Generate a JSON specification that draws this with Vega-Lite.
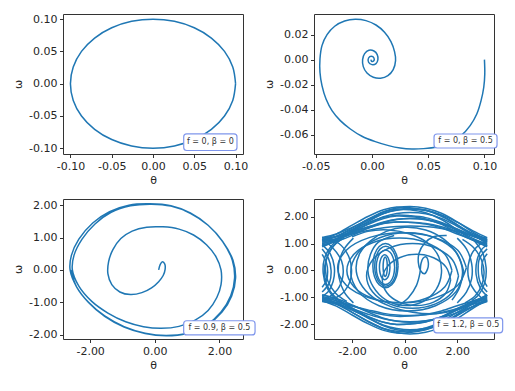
{
"$schema": "https://vega.github.io/schema/vega-lite/v6.json",
"background": "white",
"padding": {"left": 12, "top": 12, "right": 0, "bottom": 0},
"bounds": "flush",
"columns": 2,
"spacing": {"row": 45, "column": 71},
"datasets": {
"p1": [
{"s":1,"x":0.1,"y":0},{"s":1,"x":0.0966,"y":0.0259},{"s":1,"x":0.0866,"y":0.05},{"s":1,"x":0.0707,"y":0.0707},{"s":1,"x":0.05,"y":0.0866},{"s":1,"x":0.0259,"y":0.0966},{"s":1,"x":0,"y":0.1},{"s":1,"x":-0.0259,"y":0.0966},{"s":1,"x":-0.05,"y":0.0866},{"s":1,"x":-0.0707,"y":0.0707},{"s":1,"x":-0.0866,"y":0.05},{"s":1,"x":-0.0966,"y":0.0259},{"s":1,"x":-0.1,"y":0},{"s":1,"x":-0.0966,"y":-0.0259},{"s":1,"x":-0.0866,"y":-0.05},{"s":1,"x":-0.0707,"y":-0.0707},{"s":1,"x":-0.05,"y":-0.0866},{"s":1,"x":-0.0259,"y":-0.0966},{"s":1,"x":0,"y":-0.1},{"s":1,"x":0.0259,"y":-0.0966},{"s":1,"x":0.05,"y":-0.0866},{"s":1,"x":0.0707,"y":-0.0707},{"s":1,"x":0.0866,"y":-0.05},{"s":1,"x":0.0966,"y":-0.0259},{"s":1,"x":0.1,"y":0}
],
"p2": [
{"s":1,"x":0.1,"y":0},{"s":1,"x":0.1003,"y":-0.0115},{"s":1,"x":0.0994,"y":-0.0221},{"s":1,"x":0.097,"y":-0.0328},{"s":1,"x":0.0932,"y":-0.0435},{"s":1,"x":0.0873,"y":-0.0528},{"s":1,"x":0.0793,"y":-0.0608},{"s":1,"x":0.0695,"y":-0.0667},{"s":1,"x":0.0577,"y":-0.0699},{"s":1,"x":0.0459,"y":-0.0712},{"s":1,"x":0.0355,"y":-0.0715},{"s":1,"x":0.0251,"y":-0.0707},{"s":1,"x":0.0148,"y":-0.0688},{"s":1,"x":0.003,"y":-0.0656},{"s":1,"x":-0.0089,"y":-0.0613},{"s":1,"x":-0.0192,"y":-0.0555},{"s":1,"x":-0.0281,"y":-0.0488},{"s":1,"x":-0.0355,"y":-0.0408},{"s":1,"x":-0.0408,"y":-0.0315},{"s":1,"x":-0.0444,"y":-0.0208},{"s":1,"x":-0.0462,"y":-0.0101},{"s":1,"x":-0.0462,"y":0.0005},{"s":1,"x":-0.0444,"y":0.0112},{"s":1,"x":-0.0399,"y":0.02},{"s":1,"x":-0.0331,"y":0.0267},{"s":1,"x":-0.0243,"y":0.0309},{"s":1,"x":-0.0148,"y":0.0323},{"s":1,"x":-0.0053,"y":0.0312},{"s":1,"x":0.0036,"y":0.0277},{"s":1,"x":0.0112,"y":0.0219},{"s":1,"x":0.0169,"y":0.0144},{"s":1,"x":0.0201,"y":0.0064},{"s":1,"x":0.021,"y":-0.0008},{"s":1,"x":0.0189,"y":-0.008},{"s":1,"x":0.0142,"y":-0.0128},{"s":1,"x":0.0077,"y":-0.0149},{"s":1,"x":0.0012,"y":-0.0141},{"s":1,"x":-0.0044,"y":-0.0107},{"s":1,"x":-0.0077,"y":-0.0056},{"s":1,"x":-0.0083,"y":0},{"s":1,"x":-0.0065,"y":0.0048},{"s":1,"x":-0.0027,"y":0.0075},{"s":1,"x":0.0018,"y":0.0069},{"s":1,"x":0.0047,"y":0.004},{"s":1,"x":0.0053,"y":0},{"s":1,"x":0.0036,"y":-0.0032},{"s":1,"x":0,"y":-0.004},{"s":1,"x":-0.003,"y":-0.0021},{"s":1,"x":-0.003,"y":0.0013},{"s":1,"x":-0.0006,"y":0.0027},{"s":1,"x":0.0018,"y":0.0013},{"s":1,"x":0.0015,"y":-0.0011},{"s":1,"x":-0.0003,"y":-0.0013},{"s":1,"x":-0.0009,"y":0}
],
"p3": [
{"s":1,"x":0.12,"y":0},{"s":1,"x":0.17,"y":0.17},{"s":1,"x":0.24,"y":0.25},{"s":1,"x":0.31,"y":0.18},{"s":1,"x":0.32,"y":0.02},{"s":1,"x":0.26,"y":-0.17},{"s":1,"x":0.12,"y":-0.36},{"s":1,"x":-0.1,"y":-0.55},{"s":1,"x":-0.4,"y":-0.7},{"s":1,"x":-0.75,"y":-0.76},{"s":1,"x":-1.08,"y":-0.68},{"s":1,"x":-1.33,"y":-0.45},{"s":1,"x":-1.45,"y":-0.12},{"s":1,"x":-1.43,"y":0.25},{"s":1,"x":-1.3,"y":0.62},{"s":1,"x":-1.05,"y":0.97},{"s":1,"x":-0.7,"y":1.2},{"s":1,"x":-0.25,"y":1.32},{"s":1,"x":0.25,"y":1.33},{"s":1,"x":0.75,"y":1.26},{"s":1,"x":1.2,"y":1.08},{"s":1,"x":1.6,"y":0.78},{"s":1,"x":1.9,"y":0.4},{"s":1,"x":2.05,"y":0},{"s":1,"x":2.05,"y":-0.45},{"s":1,"x":1.92,"y":-0.85},{"s":1,"x":1.65,"y":-1.25},{"s":1,"x":1.25,"y":-1.55},{"s":1,"x":0.75,"y":-1.74},{"s":1,"x":0.2,"y":-1.8},{"s":1,"x":-0.35,"y":-1.75},{"s":1,"x":-0.9,"y":-1.6},{"s":1,"x":-1.45,"y":-1.33},{"s":1,"x":-1.95,"y":-0.97},{"s":1,"x":-2.35,"y":-0.5},{"s":1,"x":-2.55,"y":0},{"s":1,"x":-2.5,"y":0.45},{"s":1,"x":-2.25,"y":0.95},{"s":1,"x":-1.85,"y":1.42},{"s":1,"x":-1.35,"y":1.78},{"s":1,"x":-0.75,"y":1.98},{"s":1,"x":-0.1,"y":2.03},{"s":1,"x":0.5,"y":1.97},{"s":1,"x":1.1,"y":1.75},{"s":1,"x":1.65,"y":1.38},{"s":1,"x":2.1,"y":0.88},{"s":1,"x":2.4,"y":0.3},{"s":1,"x":2.47,"y":-0.25},{"s":1,"x":2.35,"y":-0.8},{"s":1,"x":2.05,"y":-1.3},{"s":1,"x":1.6,"y":-1.7},{"s":1,"x":1.0,"y":-1.95},{"s":1,"x":0.35,"y":-2.02},{"s":1,"x":-0.3,"y":-1.95},{"s":1,"x":-0.95,"y":-1.75},{"s":1,"x":-1.55,"y":-1.42},{"s":1,"x":-2.05,"y":-1.0},{"s":1,"x":-2.42,"y":-0.52},{"s":1,"x":-2.62,"y":0},{"s":1,"x":-2.58,"y":0.45},{"s":1,"x":-2.35,"y":0.95},{"s":1,"x":-1.92,"y":1.45},{"s":1,"x":-1.4,"y":1.8},{"s":1,"x":-0.8,"y":2.0},{"s":1,"x":-0.15,"y":2.04},{"s":1,"x":0.5,"y":1.98},{"s":1,"x":1.1,"y":1.76},{"s":1,"x":1.65,"y":1.38},{"s":1,"x":2.1,"y":0.88},{"s":1,"x":2.42,"y":0.3},{"s":1,"x":2.5,"y":-0.25},{"s":1,"x":2.38,"y":-0.8},{"s":1,"x":2.08,"y":-1.3},{"s":1,"x":1.62,"y":-1.7},{"s":1,"x":1.0,"y":-1.96},{"s":1,"x":0.35,"y":-2.03},{"s":1,"x":-0.3,"y":-1.96},{"s":1,"x":-0.95,"y":-1.76},{"s":1,"x":-1.55,"y":-1.43},{"s":1,"x":-2.05,"y":-1.0},{"s":1,"x":-2.42,"y":-0.52},{"s":1,"x":-2.6,"y":0}
],
"p4": [
{"s":1,"x":-3.14,"y":1.15},{"s":1,"x":-2.6,"y":1.35},{"s":1,"x":-2.0,"y":1.68},{"s":1,"x":-1.4,"y":2.0},{"s":1,"x":-0.8,"y":2.25},{"s":1,"x":-0.3,"y":2.35},{"s":1,"x":0.2,"y":2.33},{"s":1,"x":0.8,"y":2.23},{"s":1,"x":1.4,"y":2.01},{"s":1,"x":2.0,"y":1.68},{"s":1,"x":2.6,"y":1.37},{"s":1,"x":3.14,"y":1.15},
{"s":2,"x":-3.14,"y":1.22},{"s":2,"x":-2.6,"y":1.35},{"s":2,"x":-2.0,"y":1.6},{"s":2,"x":-1.4,"y":1.87},{"s":2,"x":-0.8,"y":2.11},{"s":2,"x":-0.3,"y":2.23},{"s":2,"x":0.2,"y":2.27},{"s":2,"x":0.8,"y":2.22},{"s":2,"x":1.4,"y":2.06},{"s":2,"x":2.0,"y":1.79},{"s":2,"x":2.6,"y":1.47},{"s":2,"x":3.14,"y":1.22},
{"s":3,"x":-3.14,"y":1.05},{"s":3,"x":-2.6,"y":1.18},{"s":3,"x":-2.0,"y":1.45},{"s":3,"x":-1.4,"y":1.73},{"s":3,"x":-0.8,"y":1.99},{"s":3,"x":-0.3,"y":2.11},{"s":3,"x":0.2,"y":2.15},{"s":3,"x":0.8,"y":2.1},{"s":3,"x":1.4,"y":1.93},{"s":3,"x":2.0,"y":1.64},{"s":3,"x":2.6,"y":1.31},{"s":3,"x":3.14,"y":1.05},
{"s":4,"x":-3.14,"y":1.1},{"s":4,"x":-2.6,"y":1.26},{"s":4,"x":-2.0,"y":1.52},{"s":4,"x":-1.4,"y":1.77},{"s":4,"x":-0.8,"y":1.97},{"s":4,"x":-0.3,"y":2.05},{"s":4,"x":0.2,"y":2.03},{"s":4,"x":0.8,"y":1.96},{"s":4,"x":1.4,"y":1.78},{"s":4,"x":2.0,"y":1.52},{"s":4,"x":2.6,"y":1.27},{"s":4,"x":3.14,"y":1.1},
{"s":5,"x":-3.14,"y":0.95},{"s":5,"x":-2.6,"y":1.07},{"s":5,"x":-2.0,"y":1.3},{"s":5,"x":-1.4,"y":1.56},{"s":5,"x":-0.8,"y":1.78},{"s":5,"x":-0.3,"y":1.89},{"s":5,"x":0.2,"y":1.93},{"s":5,"x":0.8,"y":1.88},{"s":5,"x":1.4,"y":1.73},{"s":5,"x":2.0,"y":1.48},{"s":5,"x":2.6,"y":1.19},{"s":5,"x":3.14,"y":0.95},
{"s":6,"x":-3.14,"y":1.0},{"s":6,"x":-2.6,"y":1.14},{"s":6,"x":-2.0,"y":1.35},{"s":6,"x":-1.4,"y":1.57},{"s":6,"x":-0.8,"y":1.74},{"s":6,"x":-0.3,"y":1.8},{"s":6,"x":0.2,"y":1.78},{"s":6,"x":0.8,"y":1.72},{"s":6,"x":1.4,"y":1.58},{"s":6,"x":2.0,"y":1.35},{"s":6,"x":2.6,"y":1.14},{"s":6,"x":3.14,"y":1.0},
{"s":7,"x":-3.14,"y":1.2},{"s":7,"x":-2.6,"y":1.25},{"s":7,"x":-2.0,"y":1.36},{"s":7,"x":-1.4,"y":1.48},{"s":7,"x":-0.8,"y":1.58},{"s":7,"x":-0.3,"y":1.63},{"s":7,"x":0.2,"y":1.65},{"s":7,"x":0.8,"y":1.63},{"s":7,"x":1.4,"y":1.56},{"s":7,"x":2.0,"y":1.44},{"s":7,"x":2.6,"y":1.31},{"s":7,"x":3.14,"y":1.2},
{"s":8,"x":-3.14,"y":0.88},{"s":8,"x":-2.6,"y":1.12},{"s":8,"x":-2.0,"y":1.5},{"s":8,"x":-1.4,"y":1.87},{"s":8,"x":-0.8,"y":2.17},{"s":8,"x":-0.3,"y":2.28},{"s":8,"x":0.2,"y":2.25},{"s":8,"x":0.8,"y":2.14},{"s":8,"x":1.4,"y":1.89},{"s":8,"x":2.0,"y":1.5},{"s":8,"x":2.6,"y":1.13},{"s":8,"x":3.14,"y":0.88},
{"s":9,"x":-3.14,"y":1.12},{"s":9,"x":-2.6,"y":1.27},{"s":9,"x":-2.0,"y":1.57},{"s":9,"x":-1.4,"y":1.9},{"s":9,"x":-0.8,"y":2.18},{"s":9,"x":-0.3,"y":2.32},{"s":9,"x":0.2,"y":2.37},{"s":9,"x":0.8,"y":2.31},{"s":9,"x":1.4,"y":2.12},{"s":9,"x":2.0,"y":1.8},{"s":9,"x":2.6,"y":1.42},{"s":9,"x":3.14,"y":1.12},
{"s":10,"x":-3.14,"y":1.0},{"s":10,"x":-2.6,"y":1.16},{"s":10,"x":-2.0,"y":1.47},{"s":10,"x":-1.4,"y":1.81},{"s":10,"x":-0.8,"y":2.11},{"s":10,"x":-0.3,"y":2.25},{"s":10,"x":0.2,"y":2.3},{"s":10,"x":0.8,"y":2.24},{"s":10,"x":1.4,"y":2.04},{"s":10,"x":2.0,"y":1.7},{"s":10,"x":2.6,"y":1.31},{"s":10,"x":3.14,"y":1.0},
{"s":18,"x":-3.14,"y":1.15},{"s":18,"x":-2.6,"y":1.26},{"s":18,"x":-2.0,"y":1.44},{"s":18,"x":-1.4,"y":1.61},{"s":18,"x":-0.8,"y":1.75},{"s":18,"x":-0.3,"y":1.8},{"s":18,"x":0.2,"y":1.79},{"s":18,"x":0.8,"y":1.74},{"s":18,"x":1.4,"y":1.62},{"s":18,"x":2.0,"y":1.44},{"s":18,"x":2.6,"y":1.27},{"s":18,"x":3.14,"y":1.15},
{"s":19,"x":-3.14,"y":0.92},{"s":19,"x":-2.6,"y":1.11},{"s":19,"x":-2.0,"y":1.4},{"s":19,"x":-1.4,"y":1.7},{"s":19,"x":-0.8,"y":1.93},{"s":19,"x":-0.3,"y":2.02},{"s":19,"x":0.2,"y":2.0},{"s":19,"x":0.8,"y":1.91},{"s":19,"x":1.4,"y":1.71},{"s":19,"x":2.0,"y":1.4},{"s":19,"x":2.6,"y":1.12},{"s":19,"x":3.14,"y":0.92},
{"s":20,"x":-3.14,"y":1.08},{"s":20,"x":-2.6,"y":1.18},{"s":20,"x":-2.0,"y":1.39},{"s":20,"x":-1.4,"y":1.61},{"s":20,"x":-0.8,"y":1.8},{"s":20,"x":-0.3,"y":1.9},{"s":20,"x":0.2,"y":1.93},{"s":20,"x":0.8,"y":1.89},{"s":20,"x":1.4,"y":1.76},{"s":20,"x":2.0,"y":1.54},{"s":20,"x":2.6,"y":1.28},{"s":20,"x":3.14,"y":1.08},
{"s":11,"x":-3.14,"y":-1.12},{"s":11,"x":-2.6,"y":-1.32},{"s":11,"x":-2.0,"y":-1.65},{"s":11,"x":-1.4,"y":-1.97},{"s":11,"x":-0.8,"y":-2.22},{"s":11,"x":-0.3,"y":-2.32},{"s":11,"x":0.2,"y":-2.3},{"s":11,"x":0.8,"y":-2.2},{"s":11,"x":1.4,"y":-1.98},{"s":11,"x":2.0,"y":-1.65},{"s":11,"x":2.6,"y":-1.34},{"s":11,"x":3.14,"y":-1.12},
{"s":12,"x":-3.14,"y":-1.05},{"s":12,"x":-2.6,"y":-1.19},{"s":12,"x":-2.0,"y":-1.46},{"s":12,"x":-1.4,"y":-1.76},{"s":12,"x":-0.8,"y":-2.03},{"s":12,"x":-0.3,"y":-2.15},{"s":12,"x":0.2,"y":-2.2},{"s":12,"x":0.8,"y":-2.14},{"s":12,"x":1.4,"y":-1.97},{"s":12,"x":2.0,"y":-1.67},{"s":12,"x":2.6,"y":-1.33},{"s":12,"x":3.14,"y":-1.05},
{"s":13,"x":-3.14,"y":-0.95},{"s":13,"x":-2.6,"y":-1.13},{"s":13,"x":-2.0,"y":-1.41},{"s":13,"x":-1.4,"y":-1.7},{"s":13,"x":-0.8,"y":-1.92},{"s":13,"x":-0.3,"y":-2.0},{"s":13,"x":0.2,"y":-1.98},{"s":13,"x":0.8,"y":-1.9},{"s":13,"x":1.4,"y":-1.71},{"s":13,"x":2.0,"y":-1.41},{"s":13,"x":2.6,"y":-1.14},{"s":13,"x":3.14,"y":-0.95},
{"s":14,"x":-3.14,"y":-1.15},{"s":14,"x":-2.6,"y":-1.24},{"s":14,"x":-2.0,"y":-1.42},{"s":14,"x":-1.4,"y":-1.62},{"s":14,"x":-0.8,"y":-1.79},{"s":14,"x":-0.3,"y":-1.87},{"s":14,"x":0.2,"y":-1.9},{"s":14,"x":0.8,"y":-1.86},{"s":14,"x":1.4,"y":-1.75},{"s":14,"x":2.0,"y":-1.56},{"s":14,"x":2.6,"y":-1.33},{"s":14,"x":3.14,"y":-1.15},
{"s":15,"x":-3.14,"y":-1.0},{"s":15,"x":-2.6,"y":-1.12},{"s":15,"x":-2.0,"y":-1.31},{"s":15,"x":-1.4,"y":-1.5},{"s":15,"x":-0.8,"y":-1.64},{"s":15,"x":-0.3,"y":-1.7},{"s":15,"x":0.2,"y":-1.69},{"s":15,"x":0.8,"y":-1.63},{"s":15,"x":1.4,"y":-1.5},{"s":15,"x":2.0,"y":-1.31},{"s":15,"x":2.6,"y":-1.13},{"s":15,"x":3.14,"y":-1.0},
{"s":16,"x":-3.14,"y":-0.9},{"s":16,"x":-2.6,"y":-1.06},{"s":16,"x":-2.0,"y":-1.39},{"s":16,"x":-1.4,"y":-1.74},{"s":16,"x":-0.8,"y":-2.05},{"s":16,"x":-0.3,"y":-2.2},{"s":16,"x":0.2,"y":-2.25},{"s":16,"x":0.8,"y":-2.18},{"s":16,"x":1.4,"y":-1.98},{"s":16,"x":2.0,"y":-1.63},{"s":16,"x":2.6,"y":-1.22},{"s":16,"x":3.14,"y":-0.9},
{"s":17,"x":-3.14,"y":-1.1},{"s":17,"x":-2.6,"y":-1.25},{"s":17,"x":-2.0,"y":-1.55},{"s":17,"x":-1.4,"y":-1.88},{"s":17,"x":-0.8,"y":-2.16},{"s":17,"x":-0.3,"y":-2.3},{"s":17,"x":0.2,"y":-2.35},{"s":17,"x":0.8,"y":-2.29},{"s":17,"x":1.4,"y":-2.1},{"s":17,"x":2.0,"y":-1.78},{"s":17,"x":2.6,"y":-1.4},{"s":17,"x":3.14,"y":-1.1},
{"s":37,"x":-3.14,"y":-1.0},{"s":37,"x":-2.6,"y":-1.21},{"s":37,"x":-2.0,"y":-1.55},{"s":37,"x":-1.4,"y":-1.89},{"s":37,"x":-0.8,"y":-2.15},{"s":37,"x":-0.3,"y":-2.25},{"s":37,"x":0.2,"y":-2.23},{"s":37,"x":0.8,"y":-2.13},{"s":37,"x":1.4,"y":-1.9},{"s":37,"x":2.0,"y":-1.55},{"s":37,"x":2.6,"y":-1.23},{"s":37,"x":3.14,"y":-1.0},
{"s":38,"x":-3.14,"y":-1.12},{"s":38,"x":-2.6,"y":-1.19},{"s":38,"x":-2.0,"y":-1.32},{"s":38,"x":-1.4,"y":-1.46},{"s":38,"x":-0.8,"y":-1.59},{"s":38,"x":-0.3,"y":-1.65},{"s":38,"x":0.2,"y":-1.67},{"s":38,"x":0.8,"y":-1.64},{"s":38,"x":1.4,"y":-1.56},{"s":38,"x":2.0,"y":-1.42},{"s":38,"x":2.6,"y":-1.25},{"s":38,"x":3.14,"y":-1.12},
{"s":39,"x":-3.14,"y":-0.92},{"s":39,"x":-2.6,"y":-1.04},{"s":39,"x":-2.0,"y":-1.28},{"s":39,"x":-1.4,"y":-1.54},{"s":39,"x":-0.8,"y":-1.77},{"s":39,"x":-0.3,"y":-1.88},{"s":39,"x":0.2,"y":-1.92},{"s":39,"x":0.8,"y":-1.87},{"s":39,"x":1.4,"y":-1.72},{"s":39,"x":2.0,"y":-1.46},{"s":39,"x":2.6,"y":-1.16},{"s":39,"x":3.14,"y":-0.92},
{"s":40,"x":-3.14,"y":-1.05},{"s":40,"x":-2.6,"y":-1.21},{"s":40,"x":-2.0,"y":-1.47},{"s":40,"x":-1.4,"y":-1.72},{"s":40,"x":-0.8,"y":-1.92},{"s":40,"x":-0.3,"y":-2.0},{"s":40,"x":0.2,"y":-1.98},{"s":40,"x":0.8,"y":-1.91},{"s":40,"x":1.4,"y":-1.73},{"s":40,"x":2.0,"y":-1.47},{"s":40,"x":2.6,"y":-1.22},{"s":40,"x":3.14,"y":-1.05},
{"s":21,"x":-2.2,"y":-1.15},{"s":21,"x":-2.62,"y":-0.85},{"s":21,"x":-2.92,"y":-0.4},{"s":21,"x":-3.02,"y":0.05},{"s":21,"x":-2.95,"y":0.5},{"s":21,"x":-2.68,"y":0.95},{"s":21,"x":-2.3,"y":1.2},
{"s":22,"x":-1.95,"y":-1.2},{"s":22,"x":-2.3,"y":-0.8},{"s":22,"x":-2.5,"y":-0.25},{"s":22,"x":-2.5,"y":0.3},{"s":22,"x":-2.3,"y":0.8},{"s":22,"x":-1.95,"y":1.2},
{"s":23,"x":-3.14,"y":1.15},{"s":23,"x":-2.75,"y":0.85},{"s":23,"x":-2.4,"y":0.35},{"s":23,"x":-2.35,"y":-0.2},{"s":23,"x":-2.55,"y":-0.7},{"s":23,"x":-2.9,"y":-1.0},{"s":23,"x":-3.14,"y":-1.1},
{"s":24,"x":-3.14,"y":0.95},{"s":24,"x":-2.85,"y":0.65},{"s":24,"x":-2.68,"y":0.15},{"s":24,"x":-2.72,"y":-0.4},{"s":24,"x":-2.92,"y":-0.8},{"s":24,"x":-3.14,"y":-0.95},
{"s":25,"x":-2.6,"y":-1.1},{"s":25,"x":-2.95,"y":-0.65},{"s":25,"x":-3.1,"y":-0.1},{"s":25,"x":-3.05,"y":0.45},{"s":25,"x":-2.8,"y":0.9},{"s":25,"x":-2.55,"y":1.12},
{"s":26,"x":-3.14,"y":0.6},{"s":26,"x":-2.98,"y":0.3},{"s":26,"x":-2.93,"y":-0.05},{"s":26,"x":-2.98,"y":-0.38},{"s":26,"x":-3.14,"y":-0.62},
{"s":27,"x":-3.14,"y":1.22},{"s":27,"x":-2.5,"y":1.0},{"s":27,"x":-2.12,"y":0.5},{"s":27,"x":-2.02,"y":0.0},{"s":27,"x":-2.12,"y":-0.5},{"s":27,"x":-2.5,"y":-0.95},{"s":27,"x":-3.14,"y":-1.12},
{"s":28,"x":-2.45,"y":-1.15},{"s":28,"x":-2.85,"y":-0.75},{"s":28,"x":-3.05,"y":-0.2},{"s":28,"x":-3.0,"y":0.35},{"s":28,"x":-2.75,"y":0.85},{"s":28,"x":-2.4,"y":1.18},
{"s":29,"x":-3.14,"y":0.8},{"s":29,"x":-2.9,"y":0.45},{"s":29,"x":-2.8,"y":0.0},{"s":29,"x":-2.86,"y":-0.45},{"s":29,"x":-3.14,"y":-0.8},
{"s":31,"x":2.2,"y":1.15},{"s":31,"x":2.62,"y":0.85},{"s":31,"x":2.92,"y":0.4},{"s":31,"x":3.02,"y":-0.05},{"s":31,"x":2.95,"y":-0.5},{"s":31,"x":2.68,"y":-0.95},{"s":31,"x":2.3,"y":-1.2},
{"s":32,"x":2.0,"y":1.2},{"s":32,"x":2.35,"y":0.8},{"s":32,"x":2.55,"y":0.25},{"s":32,"x":2.55,"y":-0.3},{"s":32,"x":2.35,"y":-0.8},{"s":32,"x":2.0,"y":-1.2},
{"s":33,"x":3.14,"y":-1.15},{"s":33,"x":2.75,"y":-0.85},{"s":33,"x":2.45,"y":-0.35},{"s":33,"x":2.42,"y":0.2},{"s":33,"x":2.6,"y":0.7},{"s":33,"x":2.9,"y":1.0},{"s":33,"x":3.14,"y":1.1},
{"s":34,"x":3.14,"y":-0.95},{"s":34,"x":2.88,"y":-0.65},{"s":34,"x":2.72,"y":-0.15},{"s":34,"x":2.76,"y":0.4},{"s":34,"x":2.95,"y":0.8},{"s":34,"x":3.14,"y":0.95},
{"s":35,"x":2.65,"y":1.1},{"s":35,"x":2.97,"y":0.65},{"s":35,"x":3.1,"y":0.1},{"s":35,"x":3.05,"y":-0.45},{"s":35,"x":2.82,"y":-0.9},{"s":35,"x":2.55,"y":-1.12},
{"s":36,"x":3.14,"y":-0.6},{"s":36,"x":2.98,"y":-0.3},{"s":36,"x":2.93,"y":0.05},{"s":36,"x":2.98,"y":0.38},{"s":36,"x":3.14,"y":0.62},
{"s":30,"x":3.14,"y":-0.8},{"s":30,"x":2.88,"y":-0.45},{"s":30,"x":2.8,"y":0.0},{"s":30,"x":2.85,"y":0.45},{"s":30,"x":3.14,"y":0.8},
{"s":41,"x":2.25,"y":-0.05},{"s":41,"x":1.96,"y":0.675},{"s":41,"x":1.175,"y":1.206},{"s":41,"x":0.1,"y":1.4},{"s":41,"x":-0.975,"y":1.206},{"s":41,"x":-1.762,"y":0.675},{"s":41,"x":-2.05,"y":-0.05},{"s":41,"x":-1.762,"y":-0.775},{"s":41,"x":-0.975,"y":-1.306},{"s":41,"x":0.1,"y":-1.5},{"s":41,"x":1.175,"y":-1.306},{"s":41,"x":1.962,"y":-0.775},{"s":41,"x":2.25,"y":-0.05},
{"s":42,"x":2.05,"y":-0.2},{"s":42,"x":1.816,"y":0.4},{"s":42,"x":1.175,"y":0.839},{"s":42,"x":0.3,"y":1.0},{"s":42,"x":-0.575,"y":0.839},{"s":42,"x":-1.216,"y":0.4},{"s":42,"x":-1.45,"y":-0.2},{"s":42,"x":-1.216,"y":-0.8},{"s":42,"x":-0.575,"y":-1.239},{"s":42,"x":0.3,"y":-1.4},{"s":42,"x":1.175,"y":-1.239},{"s":42,"x":1.816,"y":-0.8},{"s":42,"x":2.05,"y":-0.2},
{"s":43,"x":2.35,"y":0.1},{"s":43,"x":2.022,"y":0.75},{"s":43,"x":1.125,"y":1.226},{"s":43,"x":-0.1,"y":1.4},{"s":43,"x":-1.325,"y":1.226},{"s":43,"x":-2.222,"y":0.75},{"s":43,"x":-2.55,"y":0.1},{"s":43,"x":-2.222,"y":-0.55},{"s":43,"x":-1.325,"y":-1.026},{"s":43,"x":-0.1,"y":-1.2},{"s":43,"x":1.125,"y":-1.026},{"s":43,"x":2.022,"y":-0.55},{"s":43,"x":2.35,"y":0.1},
{"s":44,"x":1.75,"y":-0.35},{"s":44,"x":1.576,"y":0.125},{"s":44,"x":1.1,"y":0.473},{"s":44,"x":0.45,"y":0.6},{"s":44,"x":-0.2,"y":0.473},{"s":44,"x":-0.676,"y":0.125},{"s":44,"x":-0.85,"y":-0.35},{"s":44,"x":-0.676,"y":-0.825},{"s":44,"x":-0.2,"y":-1.173},{"s":44,"x":0.45,"y":-1.3},{"s":44,"x":1.1,"y":-1.173},{"s":44,"x":1.576,"y":-0.825},{"s":44,"x":1.75,"y":-0.35},
{"s":45,"x":1.8,"y":0},{"s":45,"x":1.532,"y":0.6},{"s":45,"x":0.8,"y":1.039},{"s":45,"x":-0.2,"y":1.2},{"s":45,"x":-1.2,"y":1.039},{"s":45,"x":-1.932,"y":0.6},{"s":45,"x":-2.2,"y":0},{"s":45,"x":-1.932,"y":-0.6},{"s":45,"x":-1.2,"y":-1.039},{"s":45,"x":-0.2,"y":-1.2},{"s":45,"x":0.8,"y":-1.039},{"s":45,"x":1.532,"y":-0.6},{"s":45,"x":1.8,"y":0},
{"s":51,"x":-0.25,"y":0.18},{"s":51,"x":-0.314,"y":0.59},{"s":51,"x":-0.49,"y":0.89},{"s":51,"x":-0.73,"y":1.0},{"s":51,"x":-0.97,"y":0.89},{"s":51,"x":-1.146,"y":0.59},{"s":51,"x":-1.21,"y":0.18},{"s":51,"x":-1.146,"y":-0.23},{"s":51,"x":-0.97,"y":-0.53},{"s":51,"x":-0.73,"y":-0.64},{"s":51,"x":-0.49,"y":-0.53},{"s":51,"x":-0.314,"y":-0.23},{"s":51,"x":-0.25,"y":0.18},
{"s":52,"x":-0.38,"y":0.12},{"s":52,"x":-0.427,"y":0.44},{"s":52,"x":-0.555,"y":0.674},{"s":52,"x":-0.73,"y":0.76},{"s":52,"x":-0.905,"y":0.674},{"s":52,"x":-1.033,"y":0.44},{"s":52,"x":-1.08,"y":0.12},{"s":52,"x":-1.033,"y":-0.2},{"s":52,"x":-0.905,"y":-0.434},{"s":52,"x":-0.73,"y":-0.52},{"s":52,"x":-0.555,"y":-0.434},{"s":52,"x":-0.427,"y":-0.2},{"s":52,"x":-0.38,"y":0.12},
{"s":53,"x":-0.56,"y":0.12},{"s":53,"x":-0.587,"y":0.35},{"s":53,"x":-0.66,"y":0.518},{"s":53,"x":-0.76,"y":0.58},{"s":53,"x":-0.86,"y":0.518},{"s":53,"x":-0.933,"y":0.35},{"s":53,"x":-0.96,"y":0.12},{"s":53,"x":-0.933,"y":-0.11},{"s":53,"x":-0.86,"y":-0.278},{"s":53,"x":-0.76,"y":-0.34},{"s":53,"x":-0.66,"y":-0.278},{"s":53,"x":-0.587,"y":-0.11},{"s":53,"x":-0.56,"y":0.12},
{"s":54,"x":-0.66,"y":0.14},{"s":54,"x":-0.671,"y":0.32},{"s":54,"x":-0.7,"y":0.452},{"s":54,"x":-0.74,"y":0.5},{"s":54,"x":-0.78,"y":0.452},{"s":54,"x":-0.809,"y":0.32},{"s":54,"x":-0.82,"y":0.14},{"s":54,"x":-0.809,"y":-0.04},{"s":54,"x":-0.78,"y":-0.172},{"s":54,"x":-0.74,"y":-0.22},{"s":54,"x":-0.7,"y":-0.172},{"s":54,"x":-0.671,"y":-0.04},{"s":54,"x":-0.66,"y":0.14},
{"s":55,"x":-0.3,"y":0.16},{"s":55,"x":-0.356,"y":0.53},{"s":55,"x":-0.51,"y":0.801},{"s":55,"x":-0.72,"y":0.9},{"s":55,"x":-0.93,"y":0.801},{"s":55,"x":-1.084,"y":0.53},{"s":55,"x":-1.14,"y":0.16},{"s":55,"x":-1.084,"y":-0.21},{"s":55,"x":-0.93,"y":-0.481},{"s":55,"x":-0.72,"y":-0.58},{"s":55,"x":-0.51,"y":-0.481},{"s":55,"x":-0.356,"y":-0.21},{"s":55,"x":-0.3,"y":0.16},
{"s":61,"x":-0.3,"y":-1.35},{"s":61,"x":0.15,"y":-1.0},{"s":61,"x":0.45,"y":-0.55},{"s":61,"x":0.58,"y":-0.1},{"s":61,"x":0.62,"y":0.25},{"s":61,"x":0.7,"y":0.45},{"s":61,"x":0.82,"y":0.5},{"s":61,"x":0.9,"y":0.3},{"s":61,"x":0.87,"y":0.05},{"s":61,"x":0.75,"y":-0.12},{"s":61,"x":0.6,"y":0.0},{"s":61,"x":0.52,"y":0.3},{"s":61,"x":0.55,"y":0.65},{"s":61,"x":0.75,"y":1.0},{"s":61,"x":1.1,"y":1.25},{"s":61,"x":1.6,"y":1.3},
{"s":62,"x":-2.0,"y":1.25},{"s":62,"x":-1.4,"y":1.45},{"s":62,"x":-0.6,"y":1.5},{"s":62,"x":0.2,"y":1.35},{"s":62,"x":0.9,"y":1.0},{"s":62,"x":1.3,"y":0.5},{"s":62,"x":1.4,"y":-0.1},{"s":62,"x":1.2,"y":-0.7},{"s":62,"x":0.7,"y":-1.15},{"s":62,"x":0.0,"y":-1.3},{"s":62,"x":-0.7,"y":-1.1},{"s":62,"x":-1.2,"y":-0.6},{"s":62,"x":-1.4,"y":0.0},{"s":62,"x":-1.3,"y":0.6},{"s":62,"x":-1.0,"y":1.05},{"s":62,"x":-0.4,"y":1.3},
{"s":63,"x":2.6,"y":-1.2},{"s":63,"x":2.0,"y":-1.45},{"s":63,"x":1.2,"y":-1.6},{"s":63,"x":0.3,"y":-1.55},{"s":63,"x":-0.5,"y":-1.35},{"s":63,"x":-1.2,"y":-1.0},{"s":63,"x":-1.7,"y":-0.45},{"s":63,"x":-1.85,"y":0.1},{"s":63,"x":-1.7,"y":0.65},{"s":63,"x":-1.3,"y":1.1},{"s":63,"x":-0.7,"y":1.45},{"s":63,"x":0.0,"y":1.6},{"s":63,"x":0.8,"y":1.5},{"s":63,"x":1.5,"y":1.15},{"s":63,"x":2.0,"y":0.6},{"s":63,"x":2.2,"y":0.0},{"s":63,"x":2.1,"y":-0.6},{"s":63,"x":1.8,"y":-1.1}
]
},
"concat": [
{"width": 180, "height": 140, "layer": [
 {"data": {"name": "p1"}, "mark": {"type": "line", "interpolate": "catmull-rom", "color": "#1f77b4", "strokeWidth": 1.5},
  "encoding": {
   "x": {"field": "x", "type": "quantitative", "title": "θ", "scale": {"domain": [-0.109, 0.109], "nice": false, "zero": false}, "axis": {"values": [-0.1, -0.05, 0, 0.05, 0.1], "labelExpr": "(datum.value < 0 ? '-' : '') + format(abs(datum.value), '.2f')"}},
   "y": {"field": "y", "type": "quantitative", "title": "ω", "scale": {"domain": [-0.109, 0.108], "nice": false, "zero": false}, "axis": {"values": [-0.1, -0.05, 0, 0.05, 0.1], "labelExpr": "(datum.value < 0 ? '-' : '') + format(abs(datum.value), '.2f')"}},
   "detail": {"field": "s"}, "order": {"value": null}}},
 {"data": {"values": [{"x1": 0.0372, "x2": 0.1017, "y1": -0.0778, "y2": -0.1036, "tx": 0.0695, "ty": -0.0907, "t": "f = 0, β = 0"}]},
  "layer": [
   {"mark": {"type": "rect", "fill": "white", "stroke": "#7f96ec", "strokeWidth": 1.2, "cornerRadius": 3},
    "encoding": {"x": {"field": "x1", "type": "quantitative", "title": "θ", "scale": {"domain": [-0.109, 0.109], "nice": false, "zero": false}, "axis": {"values": [-0.1, -0.05, 0, 0.05, 0.1], "labelExpr": "(datum.value < 0 ? '-' : '') + format(abs(datum.value), '.2f')"}}, "x2": {"field": "x2"}, "y": {"field": "y1", "type": "quantitative", "title": "ω", "scale": {"domain": [-0.109, 0.108], "nice": false, "zero": false}, "axis": {"values": [-0.1, -0.05, 0, 0.05, 0.1], "labelExpr": "(datum.value < 0 ? '-' : '') + format(abs(datum.value), '.2f')"}}, "y2": {"field": "y2"}}},
   {"mark": {"type": "text", "font": "DejaVu Sans", "fontSize": 8, "color": "#333333"},
    "encoding": {"x": {"field": "tx", "type": "quantitative", "title": "θ", "scale": {"domain": [-0.109, 0.109], "nice": false, "zero": false}, "axis": {"values": [-0.1, -0.05, 0, 0.05, 0.1], "labelExpr": "(datum.value < 0 ? '-' : '') + format(abs(datum.value), '.2f')"}}, "y": {"field": "ty", "type": "quantitative", "title": "ω", "scale": {"domain": [-0.109, 0.108], "nice": false, "zero": false}, "axis": {"values": [-0.1, -0.05, 0, 0.05, 0.1], "labelExpr": "(datum.value < 0 ? '-' : '') + format(abs(datum.value), '.2f')"}}, "text": {"field": "t"}}}
  ]}
]},
{"width": 180, "height": 140, "layer": [
 {"data": {"name": "p2"}, "mark": {"type": "line", "interpolate": "catmull-rom", "color": "#1f77b4", "strokeWidth": 1.5},
  "encoding": {
   "x": {"field": "x", "type": "quantitative", "title": "θ", "scale": {"domain": [-0.0515, 0.1085], "nice": false, "zero": false}, "axis": {"values": [-0.05, 0, 0.05, 0.1], "labelExpr": "(datum.value < 0 ? '-' : '') + format(abs(datum.value), '.2f')"}},
   "y": {"field": "y", "type": "quantitative", "title": "ω", "scale": {"domain": [-0.0755, 0.0365], "nice": false, "zero": false}, "axis": {"values": [-0.06, -0.04, -0.02, 0, 0.02], "labelExpr": "(datum.value < 0 ? '-' : '') + format(abs(datum.value), '.2f')"}},
   "detail": {"field": "s"}, "order": {"value": null}}},
 {"data": {"values": [{"x1": 0.0552, "x2": 0.1112, "y1": -0.0595, "y2": -0.0707, "tx": 0.0832, "ty": -0.0651, "t": "f = 0, β = 0.5"}]},
  "layer": [
   {"mark": {"type": "rect", "fill": "white", "stroke": "#7f96ec", "strokeWidth": 1.2, "cornerRadius": 3},
    "encoding": {"x": {"field": "x1", "type": "quantitative", "title": "θ", "scale": {"domain": [-0.0515, 0.1085], "nice": false, "zero": false}, "axis": {"values": [-0.05, 0, 0.05, 0.1], "labelExpr": "(datum.value < 0 ? '-' : '') + format(abs(datum.value), '.2f')"}}, "x2": {"field": "x2"}, "y": {"field": "y1", "type": "quantitative", "title": "ω", "scale": {"domain": [-0.0755, 0.0365], "nice": false, "zero": false}, "axis": {"values": [-0.06, -0.04, -0.02, 0, 0.02], "labelExpr": "(datum.value < 0 ? '-' : '') + format(abs(datum.value), '.2f')"}}, "y2": {"field": "y2"}}},
   {"mark": {"type": "text", "font": "DejaVu Sans", "fontSize": 8, "color": "#333333"},
    "encoding": {"x": {"field": "tx", "type": "quantitative", "title": "θ", "scale": {"domain": [-0.0515, 0.1085], "nice": false, "zero": false}, "axis": {"values": [-0.05, 0, 0.05, 0.1], "labelExpr": "(datum.value < 0 ? '-' : '') + format(abs(datum.value), '.2f')"}}, "y": {"field": "ty", "type": "quantitative", "title": "ω", "scale": {"domain": [-0.0755, 0.0365], "nice": false, "zero": false}, "axis": {"values": [-0.06, -0.04, -0.02, 0, 0.02], "labelExpr": "(datum.value < 0 ? '-' : '') + format(abs(datum.value), '.2f')"}}, "text": {"field": "t"}}}
  ]}
]},
{"width": 180, "height": 140, "layer": [
 {"data": {"name": "p3"}, "mark": {"type": "line", "interpolate": "catmull-rom", "color": "#1f77b4", "strokeWidth": 1.5},
  "encoding": {
   "x": {"field": "x", "type": "quantitative", "title": "θ", "scale": {"domain": [-2.84, 2.73], "nice": false, "zero": false}, "axis": {"values": [-2, 0, 2], "labelExpr": "(datum.value < 0 ? '-' : '') + format(abs(datum.value), '.2f')"}},
   "y": {"field": "y", "type": "quantitative", "title": "ω", "scale": {"domain": [-2.13, 2.19], "nice": false, "zero": false}, "axis": {"values": [-2, -1, 0, 1, 2], "labelExpr": "(datum.value < 0 ? '-' : '') + format(abs(datum.value), '.2f')"}},
   "detail": {"field": "s"}, "order": {"value": null}}},
 {"data": {"values": [{"x1": 0.894, "x2": 3.103, "y1": -1.567, "y2": -2.005, "tx": 2.0, "ty": -1.786, "t": "f = 0.9, β = 0.5"}]},
  "layer": [
   {"mark": {"type": "rect", "fill": "white", "stroke": "#7f96ec", "strokeWidth": 1.2, "cornerRadius": 3},
    "encoding": {"x": {"field": "x1", "type": "quantitative", "title": "θ", "scale": {"domain": [-2.84, 2.73], "nice": false, "zero": false}, "axis": {"values": [-2, 0, 2], "labelExpr": "(datum.value < 0 ? '-' : '') + format(abs(datum.value), '.2f')"}}, "x2": {"field": "x2"}, "y": {"field": "y1", "type": "quantitative", "title": "ω", "scale": {"domain": [-2.13, 2.19], "nice": false, "zero": false}, "axis": {"values": [-2, -1, 0, 1, 2], "labelExpr": "(datum.value < 0 ? '-' : '') + format(abs(datum.value), '.2f')"}}, "y2": {"field": "y2"}}},
   {"mark": {"type": "text", "font": "DejaVu Sans", "fontSize": 8, "color": "#333333"},
    "encoding": {"x": {"field": "tx", "type": "quantitative", "title": "θ", "scale": {"domain": [-2.84, 2.73], "nice": false, "zero": false}, "axis": {"values": [-2, 0, 2], "labelExpr": "(datum.value < 0 ? '-' : '') + format(abs(datum.value), '.2f')"}}, "y": {"field": "ty", "type": "quantitative", "title": "ω", "scale": {"domain": [-2.13, 2.19], "nice": false, "zero": false}, "axis": {"values": [-2, -1, 0, 1, 2], "labelExpr": "(datum.value < 0 ? '-' : '') + format(abs(datum.value), '.2f')"}}, "text": {"field": "t"}}}
  ]}
]},
{"width": 180, "height": 140, "layer": [
 {"data": {"name": "p4"}, "mark": {"type": "line", "interpolate": "catmull-rom", "color": "#1f77b4", "strokeWidth": 1.5},
  "encoding": {
   "x": {"field": "x", "type": "quantitative", "title": "θ", "scale": {"domain": [-3.45, 3.40], "nice": false, "zero": false}, "axis": {"values": [-2, 0, 2], "labelExpr": "(datum.value < 0 ? '-' : '') + format(abs(datum.value), '.2f')"}},
   "y": {"field": "y", "type": "quantitative", "title": "ω", "scale": {"domain": [-2.54, 2.65], "nice": false, "zero": false}, "axis": {"values": [-2, -1, 0, 1, 2], "labelExpr": "(datum.value < 0 ? '-' : '') + format(abs(datum.value), '.2f')"}},
   "detail": {"field": "s"}, "order": {"value": null}}},
 {"data": {"values": [{"x1": 1.105, "x2": 3.73, "y1": -1.76, "y2": -2.31, "tx": 2.42, "ty": -2.035, "t": "f = 1.2, β = 0.5"}]},
  "layer": [
   {"mark": {"type": "rect", "fill": "white", "stroke": "#7f96ec", "strokeWidth": 1.2, "cornerRadius": 3},
    "encoding": {"x": {"field": "x1", "type": "quantitative", "title": "θ", "scale": {"domain": [-3.45, 3.40], "nice": false, "zero": false}, "axis": {"values": [-2, 0, 2], "labelExpr": "(datum.value < 0 ? '-' : '') + format(abs(datum.value), '.2f')"}}, "x2": {"field": "x2"}, "y": {"field": "y1", "type": "quantitative", "title": "ω", "scale": {"domain": [-2.54, 2.65], "nice": false, "zero": false}, "axis": {"values": [-2, -1, 0, 1, 2], "labelExpr": "(datum.value < 0 ? '-' : '') + format(abs(datum.value), '.2f')"}}, "y2": {"field": "y2"}}},
   {"mark": {"type": "text", "font": "DejaVu Sans", "fontSize": 8, "color": "#333333"},
    "encoding": {"x": {"field": "tx", "type": "quantitative", "title": "θ", "scale": {"domain": [-3.45, 3.40], "nice": false, "zero": false}, "axis": {"values": [-2, 0, 2], "labelExpr": "(datum.value < 0 ? '-' : '') + format(abs(datum.value), '.2f')"}}, "y": {"field": "ty", "type": "quantitative", "title": "ω", "scale": {"domain": [-2.54, 2.65], "nice": false, "zero": false}, "axis": {"values": [-2, -1, 0, 1, 2], "labelExpr": "(datum.value < 0 ? '-' : '') + format(abs(datum.value), '.2f')"}}, "text": {"field": "t"}}}
  ]}
]}
],
"config": {
 "view": {"stroke": "#333333", "strokeWidth": 1},
 "axis": {"grid": false, "domain": false, "ticks": true, "tickColor": "#333333", "tickSize": 3.5, "tickWidth": 1, "labelFont": "DejaVu Sans", "labelFontSize": 11, "labelColor": "#262626", "titleFont": "DejaVu Sans", "titleFontSize": 11, "titleFontWeight": "normal", "titleColor": "#262626", "labelFlush": false, "labelOverlap": false, "labelPadding": 2.5},
 "axisX": {"titlePadding": 3},
 "axisY": {"titlePadding": 5}
}
}
